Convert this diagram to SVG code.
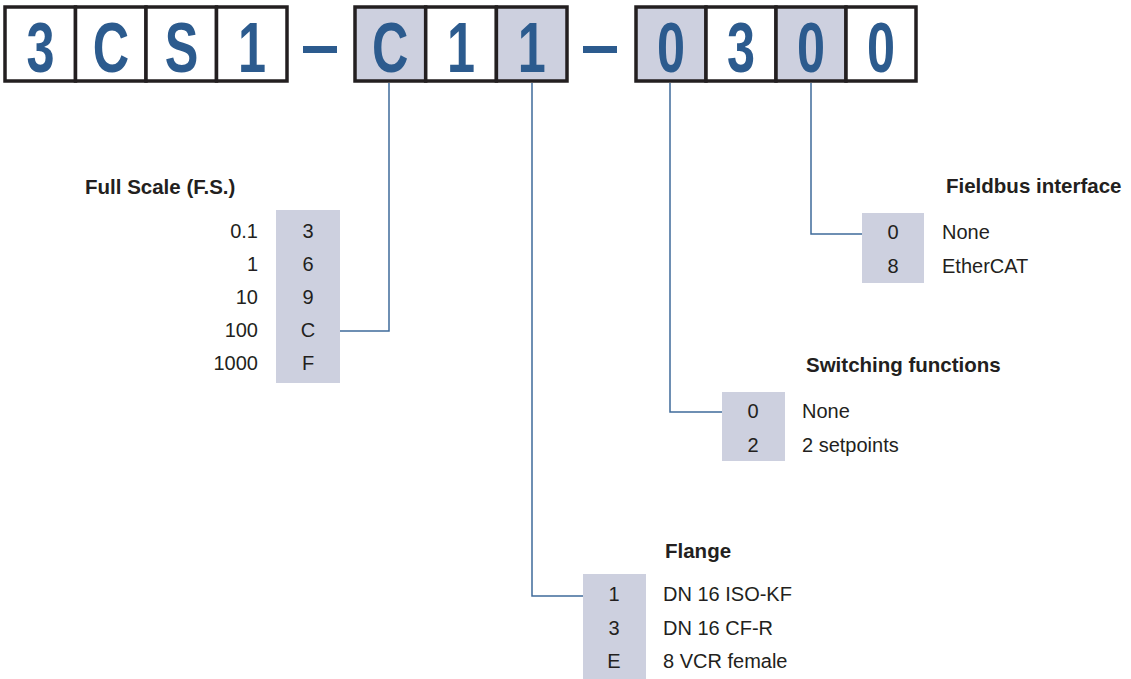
<svg xmlns="http://www.w3.org/2000/svg" width="1131" height="679" viewBox="0 0 1131 679">
<style>
.cell{stroke:#231f20;stroke-width:3.5}
.w{fill:#ffffff}
.g{fill:#cdd0df}
.big{font-family:"Liberation Sans",Arial,sans-serif;font-weight:bold;font-size:70px;fill:#2c5b8e;text-anchor:middle}
.t{font-family:"Liberation Sans",Arial,sans-serif;font-size:20px;fill:#231f20}
.h{font-family:"Liberation Sans",Arial,sans-serif;font-size:20.5px;font-weight:bold;fill:#231f20}
.c{text-anchor:middle}
.r{text-anchor:end}
.tb{fill:#cdd0df}
.conn{fill:none;stroke:#3f6b9b;stroke-width:1.5}
</style>
<rect width="1131" height="679" fill="#ffffff"/>
<g id="code">
<g id="group1">
<rect class="cell w" x="5" y="7" width="70.5" height="74"/>
<rect class="cell w" x="75.5" y="7" width="70.5" height="74"/>
<rect class="cell w" x="146" y="7" width="70.5" height="74"/>
<rect class="cell w" x="216.5" y="7" width="70.5" height="74"/>
<text class="big" transform="translate(40.5,72) scale(0.72,1)">3</text>
<text class="big" transform="translate(111,72) scale(0.72,1)">C</text>
<text class="big" transform="translate(181.5,72) scale(0.72,1)">S</text>
<text class="big" transform="translate(252,72) scale(0.72,1)">1</text>
</g>
<rect id="dash1" x="303" y="46" width="34" height="7" fill="#2c5b8e"/>
<g id="group2">
<rect class="cell g" x="355" y="7" width="70.7" height="74"/>
<rect class="cell w" x="425.7" y="7" width="70.7" height="74"/>
<rect class="cell g" x="496.4" y="7" width="70.6" height="74"/>
<text class="big" transform="translate(390.3,72) scale(0.72,1)">C</text>
<text class="big" transform="translate(461,72) scale(0.72,1)">1</text>
<text class="big" transform="translate(531.7,72) scale(0.72,1)">1</text>
</g>
<rect id="dash2" x="583" y="46" width="34" height="7" fill="#2c5b8e"/>
<g id="group3">
<rect class="cell g" x="636" y="7" width="70" height="74"/>
<rect class="cell w" x="706" y="7" width="70" height="74"/>
<rect class="cell g" x="776" y="7" width="70" height="74"/>
<rect class="cell w" x="846" y="7" width="70" height="74"/>
<text class="big" transform="translate(671,72) scale(0.72,1)">0</text>
<text class="big" transform="translate(741,72) scale(0.72,1)">3</text>
<text class="big" transform="translate(811,72) scale(0.72,1)">0</text>
<text class="big" transform="translate(881,72) scale(0.72,1)">0</text>
</g>
</g>
<g id="connectors">
<polyline class="conn" points="389,83 389,331 340,331"/>
<polyline class="conn" points="532,83 532,596 583,596"/>
<polyline class="conn" points="670,83 670,412 722,412"/>
<polyline class="conn" points="811,83 811,234 862,234"/>
</g>
<g id="fullscale">
<text class="h" x="85" y="194">Full Scale (F.S.)</text>
<rect class="tb" x="276" y="210" width="64" height="173"/>
<text class="t r" x="258" y="238">0.1</text>
<text class="t r" x="258" y="271">1</text>
<text class="t r" x="258" y="304">10</text>
<text class="t r" x="258" y="337">100</text>
<text class="t r" x="258" y="370">1000</text>
<text class="t c" x="308" y="238">3</text>
<text class="t c" x="308" y="271">6</text>
<text class="t c" x="308" y="304">9</text>
<text class="t c" x="308" y="337">C</text>
<text class="t c" x="308" y="370">F</text>
</g>
<g id="fieldbus">
<text class="h" x="946" y="193">Fieldbus interface</text>
<rect class="tb" x="862" y="213" width="62" height="70"/>
<text class="t c" x="893" y="239">0</text>
<text class="t c" x="893" y="273">8</text>
<text class="t" x="942" y="239">None</text>
<text class="t" x="942" y="273">EtherCAT</text>
</g>
<g id="switching">
<text class="h" x="806" y="372">Switching functions</text>
<rect class="tb" x="722" y="392" width="63" height="69"/>
<text class="t c" x="753" y="418">0</text>
<text class="t c" x="753" y="452">2</text>
<text class="t" x="802" y="418">None</text>
<text class="t" x="802" y="452">2 setpoints</text>
</g>
<g id="flange">
<text class="h" x="665" y="558">Flange</text>
<rect class="tb" x="583" y="574" width="63" height="105"/>
<text class="t c" x="614" y="601">1</text>
<text class="t c" x="614" y="635">3</text>
<text class="t c" x="614" y="668">E</text>
<text class="t" x="663" y="601">DN 16 ISO-KF</text>
<text class="t" x="663" y="635">DN 16 CF-R</text>
<text class="t" x="663" y="668">8 VCR female</text>
</g>
</svg>
